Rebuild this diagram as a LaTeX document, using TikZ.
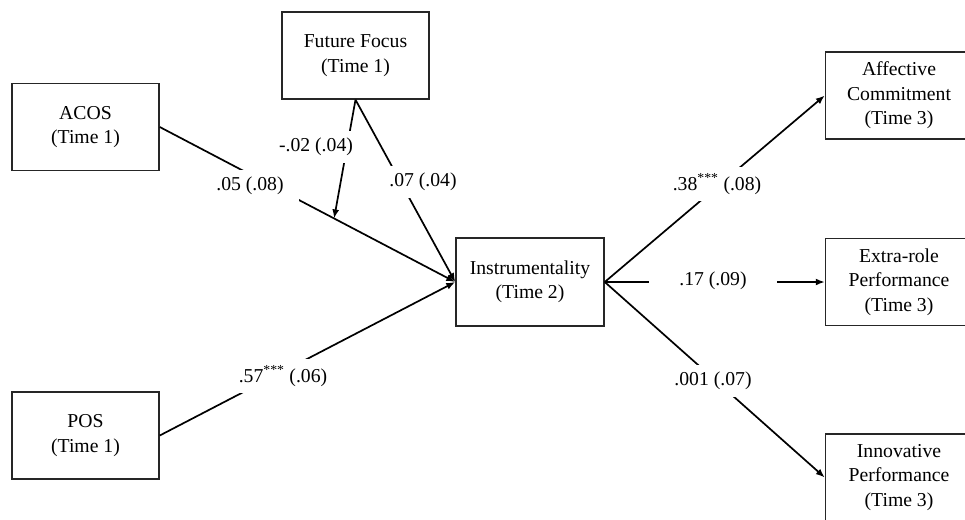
\documentclass[tikz,border=0pt]{standalone}
\usepackage{fontspec}
\setmainfont{Liberation Serif}
\usetikzlibrary{arrows.meta,calc}
\begin{document}
\begin{tikzpicture}[x=1pt,y=-1pt,
  font=\fontsize{19.7}{24.5}\selectfont,
  box/.style={draw=black!85,line width=1.5pt,minimum width=147pt,minimum height=87pt,align=center,inner sep=0pt},
  arr/.style={line width=1.7pt,-{Latex[length=9pt,width=7pt]}},
  lbl/.style={fill=white,inner xsep=15pt,inner ysep=7pt}]
\useasboundingbox (0,0) rectangle (965,519);
\node[box] (ff) at (355.5,55.5) {Future Focus\\(Time 1)};
\node[box] (acos) at (85.5,127) {ACOS\\(Time 1)};
\node[box] (pos) at (85.5,435.5) {POS\\(Time 1)};
\node[box,minimum width=148pt,minimum height=88pt] (inst) at (530,282) {Instrumentality\\(Time 2)};
\node[box] (aff) at (899,95.5) {Affective\\Commitment\\(Time 3)};
\node[box] (extra) at (899,282) {Extra-role\\Performance\\(Time 3)};
\node[box] (innov) at (899,477.5) {Innovative\\Performance\\(Time 3)};
\coordinate (mod) at ($(acos.east)!0.59!(inst.west)$);
\draw[arr] (acos.east) -- (inst.west);
\draw[arr] (pos.east) -- (inst.west);
\draw[arr] (ff.south) -- (inst.west);
\draw[arr] (ff.south) -- (mod);
\draw[arr] (inst.east) -- (aff.west);
\draw[arr] (inst.east) -- (extra.west);
\draw[arr] (inst.east) -- (innov.west);
\node[lbl] (l1) at (250,186) {.05 (.08)};
\node[lbl,inner xsep=17pt] (l2) at (316,147) {-.02 (.04)};
\node[lbl,inner xsep=20pt] (l3) at (423,182) {.07 (.04)};
\node[lbl,inner xsep=27pt] (l4) at (283,376) {.57\textsuperscript{***} (.06)};
\node[lbl,inner xsep=27pt] (l5) at (717,184) {.38\textsuperscript{***} (.08)};
\node[lbl,inner xsep=30pt] (l6) at (713,281) {.17 (.09)};
\node[lbl,inner xsep=12pt] (l7) at (713,381) {.001 (.07)};
\end{tikzpicture}
\end{document}
